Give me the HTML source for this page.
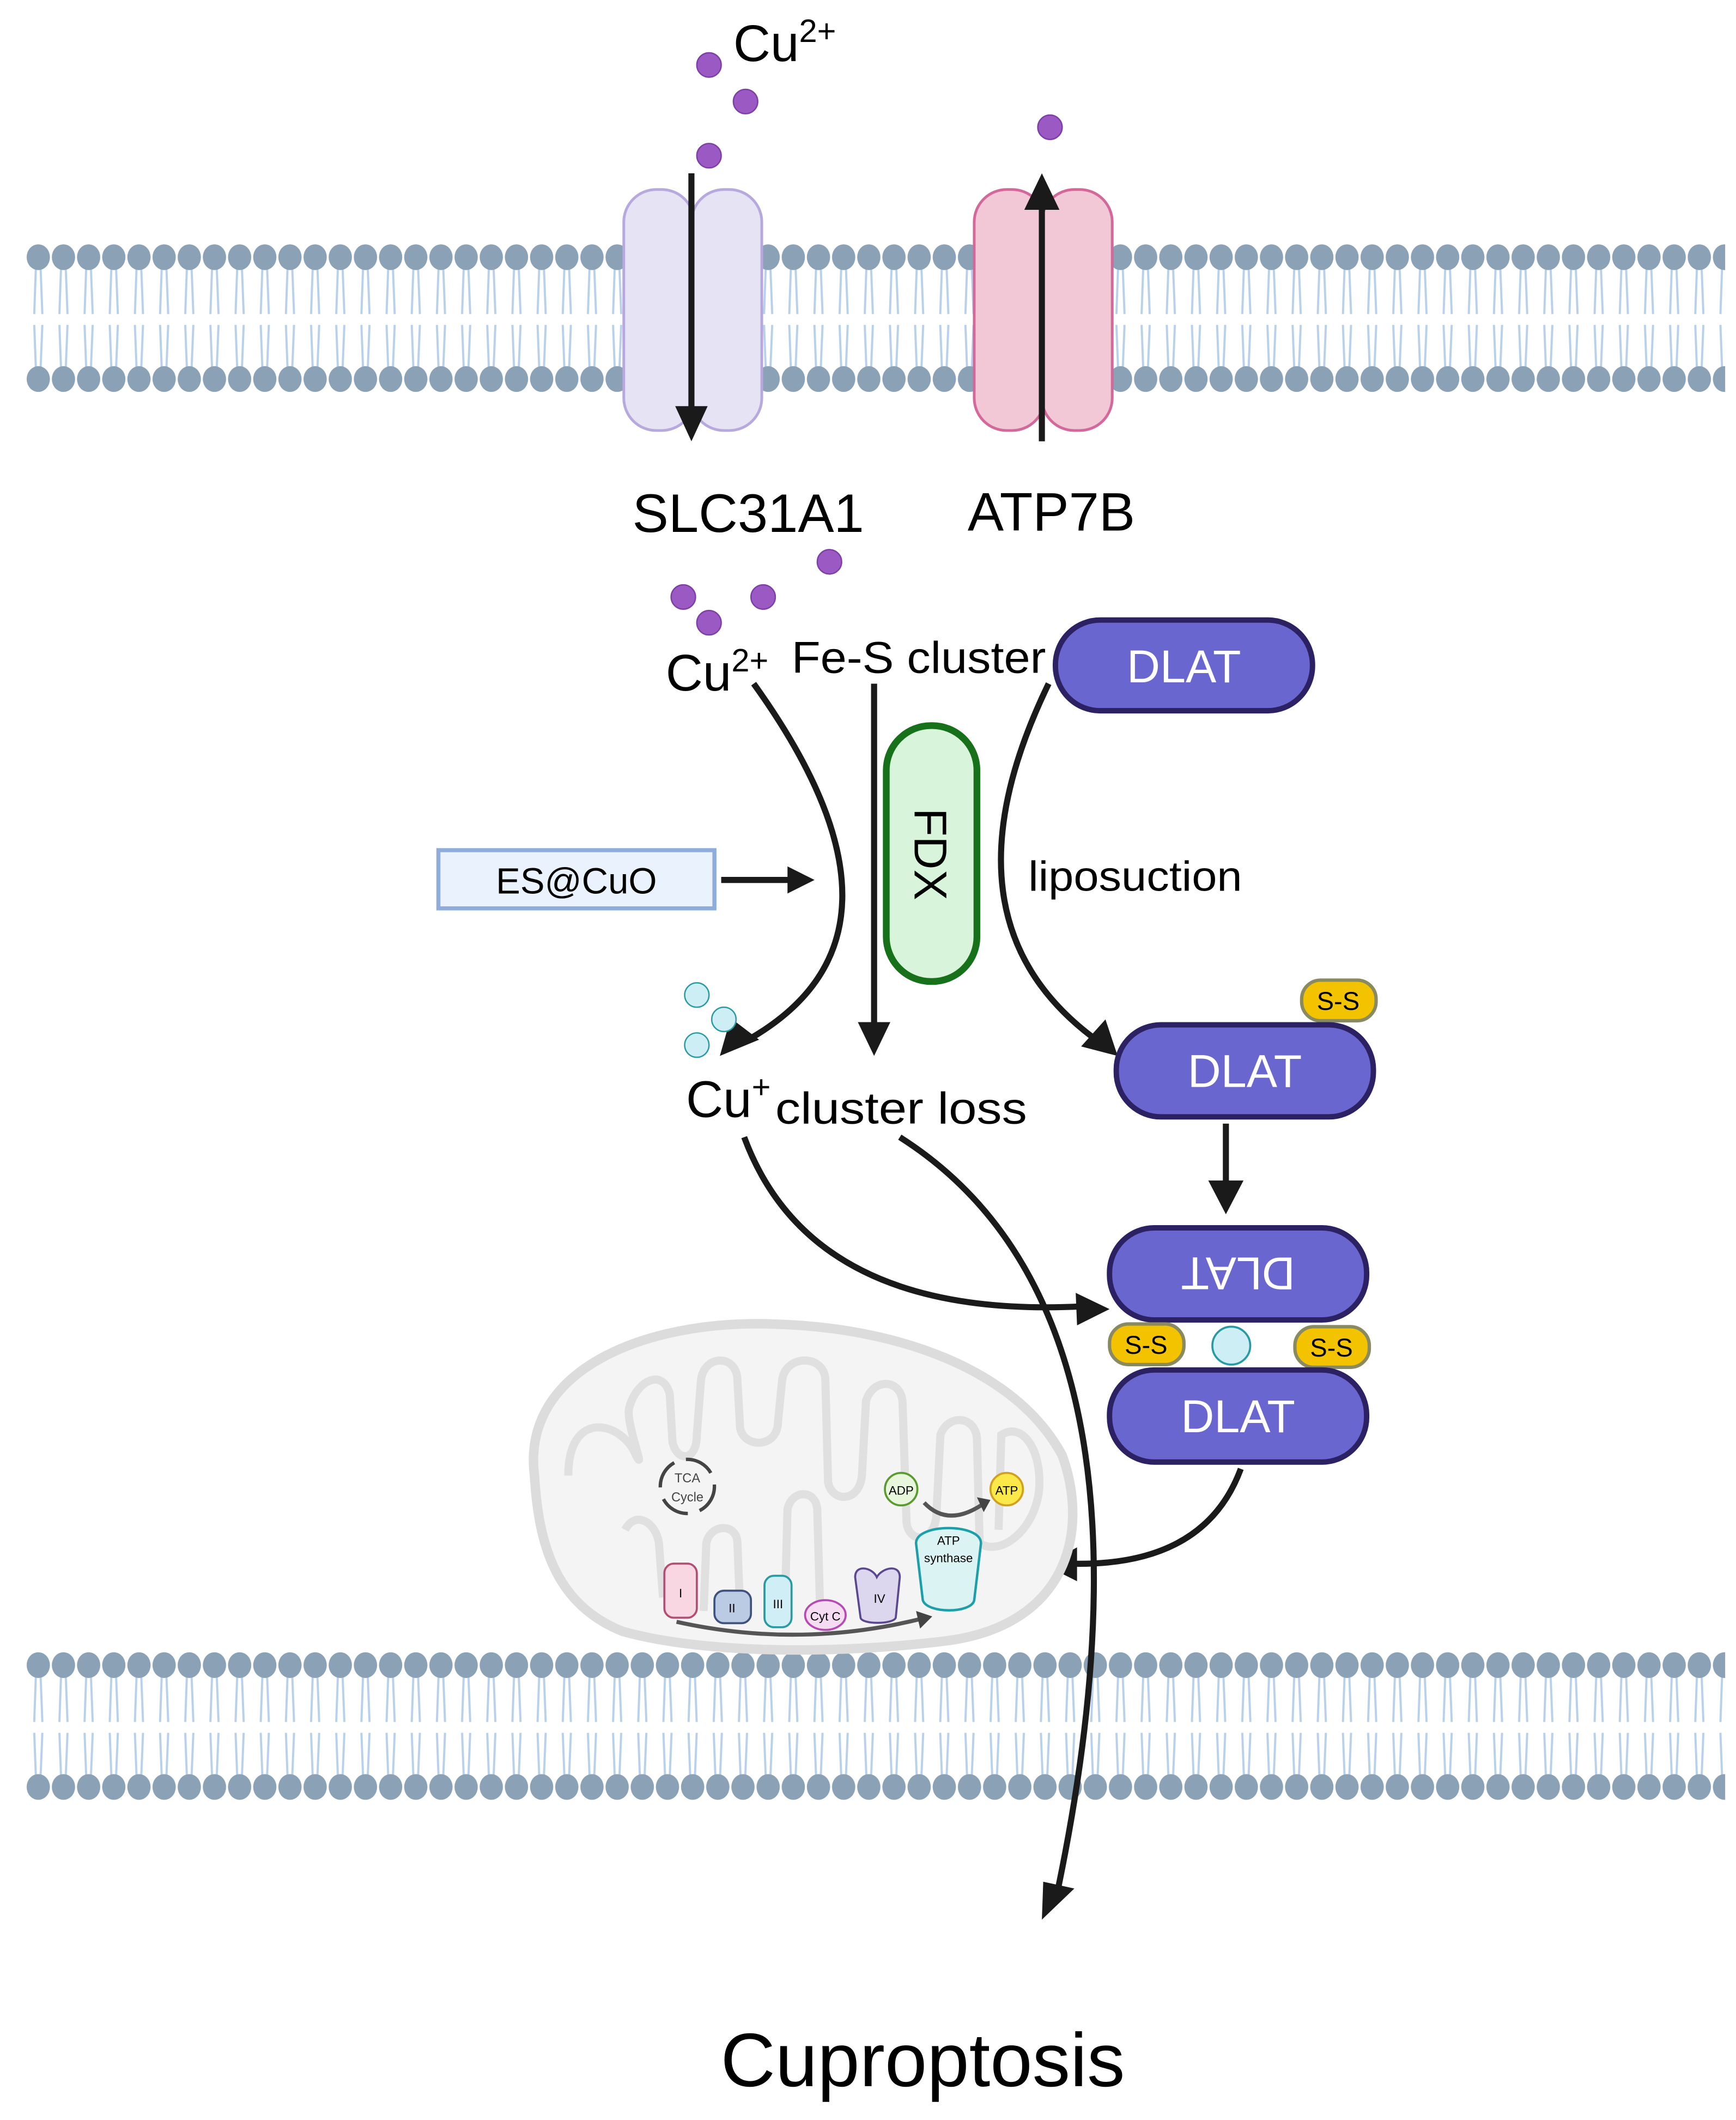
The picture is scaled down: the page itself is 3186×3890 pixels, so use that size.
<!DOCTYPE html>
<html><head><meta charset="utf-8"><style>
html,body{margin:0;padding:0;background:#fff;}
svg{display:block;}
text{font-family:"Liberation Sans",sans-serif;}
</style></head><body>
<svg width="3186" height="3890" viewBox="0 0 1283 1566" preserveAspectRatio="none" xmlns="http://www.w3.org/2000/svg">
<defs>
<pattern id="mem" x="19" y="0" width="18.6" height="1566" patternUnits="userSpaceOnUse">
  <g stroke="#b9d0ea" stroke-width="1.6" fill="none">
    <path d="M7.5 198 L6.3 232 M11 198 L12.3 232 M6.3 240 L7.5 272 M12.3 240 L11 272"/>
  </g>
  <ellipse cx="9.3" cy="190" rx="8.6" ry="9.5" fill="#8ba1b6"/>
  <ellipse cx="9.3" cy="280" rx="8.6" ry="9.5" fill="#8ba1b6"/>
</pattern>
<pattern id="mem2" x="19" y="0" width="18.6" height="1566" patternUnits="userSpaceOnUse">
  <g stroke="#b9d0ea" stroke-width="1.6" fill="none">
    <path d="M7.5 1238 L6.3 1272 M11 1238 L12.3 1272 M6.3 1280 L7.5 1312 M12.3 1280 L11 1312"/>
  </g>
  <ellipse cx="9.3" cy="1230" rx="8.6" ry="9.5" fill="#8ba1b6"/>
  <ellipse cx="9.3" cy="1320" rx="8.6" ry="9.5" fill="#8ba1b6"/>
</pattern>
<marker id="ah" viewBox="0 0 10 10" refX="8" refY="5" markerWidth="7" markerHeight="7" orient="auto" markerUnits="userSpaceOnUse" >
  <path d="M0 0 L10 5 L0 10 z" fill="#1a1a1a"/>
</marker>
<marker id="a" viewBox="0 0 10 10" refX="9" refY="5" markerWidth="7" markerHeight="7" orient="auto">
  <path d="M0 0 L10 5 L0 10 z" fill="#1a1a1a"/>
</marker>
</defs>

<!-- membranes -->
<rect x="19" y="178" width="1256" height="115" fill="url(#mem)"/>
<rect x="19" y="1218" width="1256" height="115" fill="url(#mem2)"/>

<!-- SLC31A1 channel -->
<g fill="#e6e3f5" stroke="#b7a8de" stroke-width="2">
  <rect x="461" y="140" width="52" height="178" rx="24"/>
  <rect x="511" y="140" width="52" height="178" rx="24"/>
</g>
<!-- ATP7B -->
<g fill="#f2c8d7" stroke="#d3689a" stroke-width="2">
  <rect x="720" y="140" width="52" height="178" rx="24"/>
  <rect x="770" y="140" width="52" height="178" rx="24"/>
</g>
<line x1="511" y1="128" x2="511" y2="305" stroke="#1a1a1a" stroke-width="4.5"/>
<path d="M499 300 L523 300 L511 326 Z" fill="#1a1a1a"/>
<line x1="770" y1="326" x2="770" y2="150" stroke="#1a1a1a" stroke-width="4.5"/>
<path d="M757 155 L783 155 L770 128 Z" fill="#1a1a1a"/>

<!-- purple dots -->
<g fill="#9b59c4" stroke="#7d3fa6" stroke-width="1">
  <circle cx="524" cy="48" r="9"/><circle cx="551" cy="75" r="9"/><circle cx="524" cy="115" r="9"/>
  <circle cx="776" cy="94" r="9"/><circle cx="613" cy="415" r="9"/><circle cx="505" cy="441" r="9"/>
  <circle cx="564" cy="441" r="9"/><circle cx="524" cy="460" r="9"/>
</g>

<text x="542" y="45" font-size="38">Cu<tspan font-size="24" dy="-14">2+</tspan></text>
<text x="553" y="393" font-size="40" text-anchor="middle">SLC31A1</text>
<text x="777" y="392" font-size="40" text-anchor="middle">ATP7B</text>

<text x="492" y="510" font-size="38">Cu<tspan font-size="24" dy="-14">2+</tspan></text>
<text x="585" y="497" font-size="33" textLength="188" lengthAdjust="spacingAndGlyphs">Fe-S cluster</text>

<!-- DLAT top -->
<rect x="780" y="458" width="190" height="67" rx="33" fill="#6967cf" stroke="#2b2163" stroke-width="4"/>
<text x="875" y="504" font-size="34" fill="#fff" text-anchor="middle">DLAT</text>

<!-- FDX -->
<rect x="655" y="536" width="67" height="189" rx="33" fill="#d8f5db" stroke="#17701a" stroke-width="5"/>
<text transform="translate(676,631) rotate(90)" font-size="34" text-anchor="middle">FDX</text>

<!-- ES@CuO -->
<rect x="324" y="628" width="204" height="43" fill="#eaf2fd" stroke="#8eaddb" stroke-width="3"/>
<text x="426" y="660" font-size="27" text-anchor="middle">ES@CuO</text>
<line x1="533" y1="650" x2="585" y2="650" stroke="#1a1a1a" stroke-width="4.5"/>
<path d="M582 640 L602 650 L582 660 Z" fill="#1a1a1a"/>

<text x="760" y="658" font-size="31" textLength="158" lengthAdjust="spacingAndGlyphs">liposuction</text>

<!-- arrows middle -->
<g fill="none" stroke="#1a1a1a" stroke-width="4.5">
  <path d="M557 505 Q 690 690 553 768"/>
  <line x1="646" y1="505" x2="646" y2="760"/>
  <path d="M775 505 Q 690 680 810 768"/>
  <line x1="906" y1="830" x2="906" y2="875"/>
  <path d="M550 840 Q 600 975 800 965"/>
  <path d="M665 840 Q 870 970 782 1395"/>
  <path d="M917 1085 Q 890 1158 790 1155"/>
</g>
<path d="M532 780 L540 752 L561 768 Z" fill="#1a1a1a"/>
<path d="M634 755 L658 755 L646 780 Z" fill="#1a1a1a"/>
<path d="M826 780 L799 773 L817 753 Z" fill="#1a1a1a"/>
<path d="M893 872 L919 872 L906 897 Z" fill="#1a1a1a"/>
<path d="M795 955 L820 967 L796 979 Z" fill="#1a1a1a"/>
<path d="M770 1418 L771 1390 L794 1395 Z" fill="#1a1a1a"/>
<path d="M772 1156 L796 1143 L796 1168 Z" fill="#1a1a1a"/>

<!-- cyan dots -->
<g fill="#cdeef4" stroke="#2a9aa2" stroke-width="1">
  <circle cx="515" cy="735" r="9"/><circle cx="535" cy="753" r="9"/><circle cx="515" cy="772" r="9"/>
</g>

<text x="507" y="825" font-size="38">Cu<tspan font-size="24" dy="-14">+</tspan></text>
<text x="573" y="830" font-size="33" textLength="186" lengthAdjust="spacingAndGlyphs">cluster loss</text>

<!-- DLAT with S-S -->
<rect x="962" y="724" width="55" height="30" rx="14" fill="#f3c300" stroke="#8a8a60" stroke-width="2.5"/>
<text x="989" y="746" font-size="19" text-anchor="middle">S-S</text>
<rect x="825" y="757" width="190" height="68" rx="33" fill="#6967cf" stroke="#2b2163" stroke-width="4"/>
<text x="920" y="803" font-size="34" fill="#fff" text-anchor="middle">DLAT</text>

<!-- dimer -->
<rect x="820" y="907" width="190" height="68" rx="33" fill="#6967cf" stroke="#2b2163" stroke-width="4"/>
<text transform="translate(915,929) rotate(180)" font-size="34" fill="#fff" text-anchor="middle">DLAT</text>
<rect x="820" y="978" width="55" height="30" rx="14" fill="#f3c300" stroke="#8a8a60" stroke-width="2.5"/>
<text x="847" y="1000" font-size="19" text-anchor="middle">S-S</text>
<rect x="957" y="980" width="55" height="30" rx="14" fill="#f3c300" stroke="#8a8a60" stroke-width="2.5"/>
<text x="984" y="1002" font-size="19" text-anchor="middle">S-S</text>
<ellipse cx="910" cy="994" rx="14" ry="14" fill="#cdeef4" stroke="#2a9aa2" stroke-width="1.5"/>
<rect x="820" y="1012" width="190" height="68" rx="33" fill="#6967cf" stroke="#2b2163" stroke-width="4"/>
<text x="915" y="1058" font-size="34" fill="#fff" text-anchor="middle">DLAT</text>

<!-- mitochondrion -->
<path d="M395 1090 C 385 1010 480 975 570 978 C 660 980 750 1010 785 1075 C 805 1130 790 1200 700 1212 C 620 1222 520 1222 460 1205 C 410 1185 398 1140 395 1090 Z" fill="#f4f4f4" stroke="#dcdcdc" stroke-width="7"/>
<path d="M420 1090 C 420 1040 460 1050 470 1075 C 478 1090 462 1050 465 1040 C 470 1020 490 1010 495 1030 L497 1065 C 500 1080 515 1080 515 1060 L 518 1020 C 520 1000 545 1000 545 1020 L547 1055 C 550 1070 575 1070 575 1050 L578 1020 C 580 1000 610 1000 610 1020 L612 1095 C 615 1110 635 1110 637 1090 L640 1035 C 645 1018 665 1018 667 1035 L670 1125 C 672 1140 690 1140 692 1120 L695 1060 C 700 1045 720 1045 722 1062 L724 1140 C 740 1150 765 1130 768 1100 C 770 1070 755 1050 740 1060 L738 1130" fill="none" stroke="#e0e0e0" stroke-width="6"/>
<path d="M462 1130 C 470 1115 485 1125 487 1140 L490 1180 M520 1190 L522 1140 C 525 1125 545 1125 545 1140 L547 1190 M580 1190 L582 1115 C 585 1100 603 1100 604 1115 L606 1185" fill="none" stroke="#e0e0e0" stroke-width="6"/>
<!-- TCA -->
<g fill="none" stroke="#444" stroke-width="2.5">
  <circle cx="508" cy="1098" r="20" stroke-dasharray="22 9"/>
</g>
<text x="508" y="1095" font-size="9.5" text-anchor="middle" fill="#444">TCA</text>
<text x="508" y="1109" font-size="9.5" text-anchor="middle" fill="#444">Cycle</text>
<!-- complexes -->
<rect x="491" y="1155" width="24" height="40" rx="7" fill="#f8d6e2" stroke="#b24e73" stroke-width="1.5"/>
<text x="503" y="1180" font-size="9" text-anchor="middle">I</text>
<rect x="528" y="1175" width="27" height="24" rx="7" fill="#bccbe4" stroke="#3e527f" stroke-width="1.5"/>
<text x="541" y="1191" font-size="9" text-anchor="middle">II</text>
<rect x="565" y="1164" width="20" height="38" rx="7" fill="#cfeef6" stroke="#2a9aa2" stroke-width="1.5"/>
<text x="575" y="1188" font-size="9" text-anchor="middle">III</text>
<ellipse cx="610" cy="1193" rx="15" ry="11" fill="#f5dcf3" stroke="#b54ab0" stroke-width="1.5"/>
<text x="610" y="1197" font-size="9" text-anchor="middle">Cyt C</text>
<path d="M632 1165 C 632 1155 645 1158 648 1165 C 652 1158 665 1155 665 1165 L662 1195 C 660 1200 637 1200 636 1195 Z" fill="#ddd6ef" stroke="#5a478f" stroke-width="1.5"/>
<text x="650" y="1184" font-size="9" text-anchor="middle">IV</text>
<path d="M677 1140 C 677 1125 725 1125 725 1140 L720 1182 C 718 1192 685 1192 682 1182 Z" fill="#dbf3f2" stroke="#1c9fa8" stroke-width="1.8"/>
<text x="701" y="1141" font-size="9" text-anchor="middle">ATP</text>
<text x="701" y="1154" font-size="9" text-anchor="middle">synthase</text>
<circle cx="666" cy="1100" r="12" fill="#e8f6dc" stroke="#5a9a2e" stroke-width="1.5"/>
<text x="666" y="1104" font-size="9" text-anchor="middle">ADP</text>
<circle cx="744" cy="1100" r="12" fill="#fbe94a" stroke="#d0a020" stroke-width="1.5"/>
<text x="744" y="1104" font-size="9" text-anchor="middle">ATP</text>
<path d="M683 1110 Q 700 1128 725 1112" fill="none" stroke="#555" stroke-width="3"/>
<path d="M722 1106 L732 1108 L727 1117 Z" fill="#444"/>
<path d="M500 1198 Q 590 1218 680 1196" fill="none" stroke="#555" stroke-width="3"/>
<path d="M677 1190 L689 1194 L680 1203 Z" fill="#444"/>

<text x="682" y="1541" font-size="56" text-anchor="middle">Cuproptosis</text>
</svg>
</body></html>
